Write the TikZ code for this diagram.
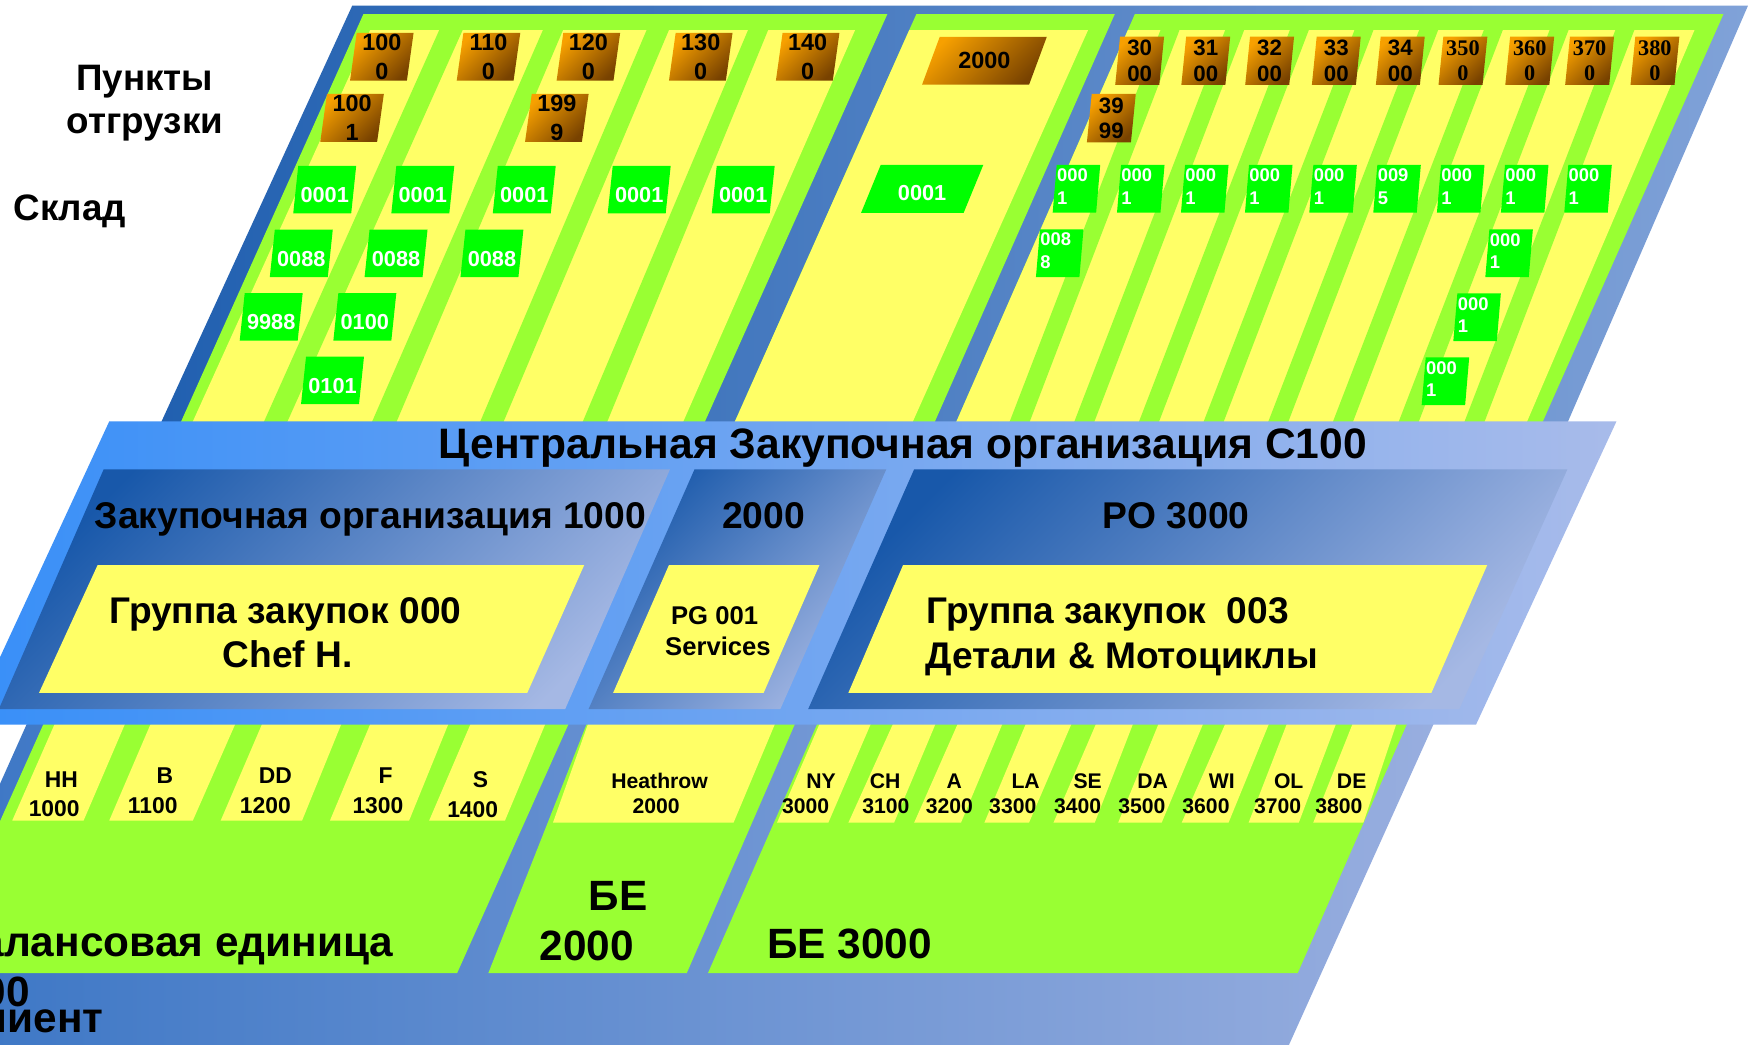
\documentclass[tikz,border=0pt]{standalone}
\usepackage{fontspec}
\setmainfont{Liberation Sans}
\newfontfamily\serifnum{Liberation Serif}
\definecolor{cLime}{RGB}{153,255,51}
\definecolor{cYel}{RGB}{255,255,102}
\definecolor{cGreen}{RGB}{0,255,0}
\definecolor{cOrL}{RGB}{247,160,0}
\definecolor{cOrD}{RGB}{120,66,0}
\definecolor{cTopL}{RGB}{33,96,176}
\definecolor{cTopR}{RGB}{128,162,216}
\definecolor{cBandL}{RGB}{56,143,248}
\definecolor{cBandR}{RGB}{168,187,234}
\definecolor{cPoL}{RGB}{24,88,170}
\definecolor{cPoR}{RGB}{165,184,228}
\definecolor{cBotL}{RGB}{56,116,196}
\definecolor{cBotR}{RGB}{152,174,223}
\newcommand\fs[2]{\fontsize{#1}{#2}\selectfont\bfseries}
\newcommand\pgbox[6]{\path[#1] (#2,#3) -- ++(#4,0) -- ++({-(#6)*(#5)},#5) -- ++({-(#4)},0) -- cycle;}
\newcommand\cbox[9]{\pgbox{#1}{#4}{#5}{#6}{#7}{#8}\node[#2] (#3) at ({#4+(#6)/2-(#8)*(#7)/2},{#5+(#7)/2}) {#9};}
\newcommand\lbox[9]{\pgbox{#1}{#4}{#5}{#6}{#7}{#8}\node[#2] (#3) at ({#4-(#8)*(#7)/2+2},{#5+(#7)/2-2}) {#9};}
\tikzset{
 orbox/.style={left color=cOrL, right color=cOrD, shading angle=45},
 grbox/.style={fill=cGreen},
 olab/.style={inner sep=0pt, align=center, font=\fs{21}{25.5}},
 olabc/.style={inner sep=0pt, align=center, font=\fs{20}{22.5}},
 olabs/.style={inner sep=0pt, align=center, font=\fontsize{20}{22.5}\selectfont\serifnum\bfseries},
 glab/.style={inner sep=0pt, align=center, text=white, font=\fs{19.5}{21}, yshift=-5pt},
 glabB/.style={inner sep=0pt, align=center, text=white, font=\fs{19.5}{21}, yshift=-3.5pt},
 glabc/.style={inner sep=0pt, align=left, anchor=west, text=white, font=\fs{16.5}{20.3}},
 cellA/.style={inner sep=0pt, anchor=base, font=\fs{20.5}{24}},
 cellB/.style={inner sep=0pt, anchor=base, font=\fs{19}{22}},
 big/.style={inner sep=0pt, font=\fs{38}{44}},
 mid/.style={inner sep=0pt, font=\fs{33.4}{38}},
 grp/.style={inner sep=0pt, font=\fs{33.3}{40}},
 side/.style={inner sep=0pt, font=\fs{33}{40}},
 stripe/.style={fill=cLime},
 panel/.style={fill=cLime},
 cell/.style={fill=cYel},
 poPanel/.style={left color=cPoL, right color=cPoR, shading angle=45},
}
\begin{document}
\begin{tikzpicture}[x=1pt,y=-1pt]
\path[use as bounding box] (0,0) rectangle (1568,937);
\fill[white] (0,0) rectangle (1568,937);
\clip (0,0) rectangle (1568,937);
% ================= TOP SECTION =================
\path[left color=cTopL, right color=cTopR] (316,5) -- (1568,5) -- (1405.7,380) -- (144,380) -- cycle;
% panel A
\path[panel] (326,12.6) -- (796,12.6) -- (631.5,380) -- (161.6,380) -- cycle;
\path[cell] (332,27) -- (767,27) -- (612.1,380) -- (172.1,380) -- cycle;
\path[stripe] (394,27) -- (415,27) -- (257,380) -- (236,380) -- cycle;
\path[stripe] (487,27) -- (505,27) -- (355,380) -- (333,380) -- cycle;
\path[stripe] (580,27) -- (600,27) -- (451,380) -- (430,380) -- cycle;
\path[stripe] (671,27) -- (689,27) -- (544,380) -- (522,380) -- cycle;
% panel B
\path[panel] (822,12.6) -- (1000,12.6) -- (837.8,380) -- (658.4,380) -- cycle;
\path[cell] (815.6,27) -- (976,27) -- (818,380) -- (658.4,380) -- cycle;
% panel C
\path[panel] (1018,12.6) -- (1546,12.6) -- (1383.1,380) -- (857.1,380) -- cycle;
\path[cell] (1011.7,27) -- (1520,27) -- (1369,380) -- (857.1,380) -- cycle;
\foreach \a in {1041,1099,1157,1215,1273,1331,1390,1449}
  \path[stripe] (\a,27) -- ({\a+17},27) -- ({\a-118},380) -- ({\a-136},380) -- cycle;
% orange boxes panel A
\cbox{orbox}{olab}{oA1}{320}{29.4}{51}{43}{0.14}{100\\0}
\cbox{orbox}{olab}{oA2}{415.7}{29.4}{51}{43}{0.14}{110\\0}
\cbox{orbox}{olab}{oA3}{505.3}{29.4}{51}{43}{0.14}{120\\0}
\cbox{orbox}{olab}{oA4}{606.1}{29.4}{51}{43}{0.14}{130\\0}
\cbox{orbox}{olab}{oA5}{702}{29.4}{51}{43}{0.14}{140\\0}
\cbox{orbox}{olab}{oA6}{293.3}{84.3}{51}{43}{0.14}{100\\1}
\cbox{orbox}{olab}{oA7}{477}{84.3}{51}{43}{0.14}{199\\9}
% green boxes panel A
\cbox{grbox}{glab}{gA1}{267.5}{148.9}{52}{42.5}{0.105}{0001}
\cbox{grbox}{glab}{gA2}{355.5}{148.9}{52}{42.5}{0.105}{0001}
\cbox{grbox}{glab}{gA3}{446.5}{148.9}{52}{42.5}{0.105}{0001}
\cbox{grbox}{glab}{gA4}{549.6}{148.9}{52}{42.5}{0.105}{0001}
\cbox{grbox}{glab}{gA5}{642.9}{148.9}{52}{42.5}{0.105}{0001}
\cbox{grbox}{glab}{gA6}{246.5}{206}{52}{42.5}{0.105}{0088}
\cbox{grbox}{glab}{gA7}{331.5}{206}{52}{42.5}{0.105}{0088}
\cbox{grbox}{glab}{gA8}{417.5}{206}{52}{42.5}{0.105}{0088}
\cbox{grbox}{glab}{gA9}{219.5}{263}{52}{42.5}{0.105}{9988}
\cbox{grbox}{glab}{gA10}{303.5}{263}{52}{42.5}{0.105}{0100}
\cbox{grbox}{glab}{gA11}{274.5}{320}{52}{42.5}{0.105}{0101}
% panel B boxes
\cbox{orbox}{olab}{oB1}{843}{33}{96}{43}{0.37}{2000}
\cbox{grbox}{glabB}{gB1}{790}{148}{92}{43}{0.41}{0001}
% panel C orange
\cbox{orbox}{olabc}{oC1}{1004.7}{32.9}{39.5}{43.3}{0.1}{30\\00}
\cbox{orbox}{olabc}{oC2}{1064}{32.9}{39.5}{43.3}{0.1}{31\\00}
\cbox{orbox}{olabc}{oC3}{1121.3}{32.9}{39.5}{43.3}{0.1}{32\\00}
\cbox{orbox}{olabc}{oC4}{1181.1}{32.9}{39.5}{43.3}{0.1}{33\\00}
\cbox{orbox}{olabc}{oC5}{1238.5}{32.9}{39.5}{43.3}{0.1}{34\\00}
\cbox{orbox}{olabs}{oC6}{1294.7}{32.9}{39.5}{43.3}{0.1}{350\\0}
\cbox{orbox}{olabs}{oC7}{1354.6}{32.9}{39.5}{43.3}{0.1}{360\\0}
\cbox{orbox}{olabs}{oC8}{1408.3}{32.9}{39.5}{43.3}{0.1}{370\\0}
\cbox{orbox}{olabs}{oC9}{1466.9}{32.9}{39.5}{43.3}{0.1}{380\\0}
\cbox{orbox}{olabc}{oC10}{979.3}{84.3}{39.5}{43.3}{0.1}{39\\99}
% panel C green
\lbox{grbox}{glabc}{gC1}{947.9}{148}{39}{42.8}{0.085}{000\\1}
\lbox{grbox}{glabc}{gC2}{1005.6}{148}{39}{42.8}{0.085}{000\\1}
\lbox{grbox}{glabc}{gC3}{1063}{148}{39}{42.8}{0.085}{000\\1}
\lbox{grbox}{glabc}{gC4}{1120.4}{148}{39}{42.8}{0.085}{000\\1}
\lbox{grbox}{glabc}{gC5}{1178.1}{148}{39}{42.8}{0.085}{000\\1}
\lbox{grbox}{glabc}{gC6}{1235.5}{148}{39}{42.8}{0.085}{009\\5}
\lbox{grbox}{glabc}{gC7}{1292.6}{148}{39}{42.8}{0.085}{000\\1}
\lbox{grbox}{glabc}{gC8}{1350}{148}{39}{42.8}{0.085}{000\\1}
\lbox{grbox}{glabc}{gC9}{1406.8}{148}{39}{42.8}{0.085}{000\\1}
\lbox{grbox}{glabc}{gC10}{932.9}{205.7}{39}{42.8}{0.085}{008\\8}
\lbox{grbox}{glabc}{gC11}{1336}{205.7}{39}{42.8}{0.085}{000\\1}
\lbox{grbox}{glabc}{gC12}{1307.3}{263.1}{39}{42.8}{0.085}{000\\1}
\lbox{grbox}{glabc}{gC13}{1278.9}{320.5}{39}{42.8}{0.085}{000\\1}
% left labels
\node[side, anchor=base] (lp1) at (130,81) {Пункты};
\node[side, anchor=base] (lp2) at (130,119.5) {отгрузки};
\node[side, anchor=base west] (lsk) at (12,198) {Склад};
% ================= BOTTOM SECTION =================
\path[left color=cBotL, right color=cBotR] (26,645) -- (1288,645) -- (1155,940) -- (-106,940) -- cycle;
\path[panel] (41,645) -- (512,645) -- (410,873) -- (-61,873) -- cycle;
\path[cell] (51,645) -- (114,645) -- (75,736) -- (11,736) -- cycle;
\path[cell] (137,645) -- (213,645) -- (173,736) -- (98,736) -- cycle;
\path[cell] (237,645) -- (308,645) -- (271,736) -- (198,736) -- cycle;
\path[cell] (334,645) -- (404,645) -- (367,736) -- (296,736) -- cycle;
\path[cell] (424,645) -- (491,645) -- (453,736) -- (385,736) -- cycle;
\path[panel] (528,645) -- (715,645) -- (616,873) -- (438,873) -- cycle;
\path[cell] (529,645) -- (697,645) -- (658,738) -- (496,738) -- cycle;
\path[panel] (735,645) -- (1264,645) -- (1164,873) -- (635,873) -- cycle;
\path[cell] (737,645) -- (783,645) -- (743,738) -- (697,738) -- cycle;
\path[cell] (803,645) -- (841,645) -- (802,738) -- (761,738) -- cycle;
\path[cell] (861,645) -- (901,645) -- (862,738) -- (820,738) -- cycle;
\path[cell] (922,645) -- (963,645) -- (923,738) -- (883,738) -- cycle;
\path[cell] (985,645) -- (1018,645) -- (982,738) -- (945,738) -- cycle;
\path[cell] (1041,645) -- (1081,645) -- (1042,738) -- (1003,738) -- cycle;
\path[cell] (1101,645) -- (1140,645) -- (1102,738) -- (1060,738) -- cycle;
\path[cell] (1156,645) -- (1200,645) -- (1165,738) -- (1120,738) -- cycle;
\path[cell] (1215,645) -- (1254,645) -- (1223,738) -- (1178,738) -- cycle;
% cell labels
\node[cellA] (t1a) at (55,706) {HH};   \node[cellA] (t1b) at (48.6,732.6) {1000};
\node[cellA] (t2a) at (148,703) {B};   \node[cellA] (t2b) at (137,730) {1100};
\node[cellA] (t3a) at (247,703) {DD};  \node[cellA] (t3b) at (238,730) {1200};
\node[cellA] (t4a) at (346,703) {F};   \node[cellA] (t4b) at (339,730) {1300};
\node[cellA] (t5a) at (431,706) {S};   \node[cellA] (t5b) at (424,733) {1400};
\node[cellB] (t6a) at (591.7,707) {Heathrow}; \node[cellB] (t6b) at (588.6,729.6) {2000};
\node[cellB] (t7a) at (736.5,707) {NY};  \node[cellB] (t7b) at (722.6,729.5) {3000};
\node[cellB] (t8a) at (794,707) {CH};    \node[cellB] (t8b) at (794.6,729.5) {3100};
\node[cellB] (t9a) at (856,707) {A};     \node[cellB] (t9b) at (851.6,729.5) {3200};
\node[cellB] (t10a) at (920,707) {LA};   \node[cellB] (t10b) at (908.5,729.5) {3300};
\node[cellB] (t11a) at (975.7,707) {SE}; \node[cellB] (t11b) at (966.7,729.5) {3400};
\node[cellB] (t12a) at (1034,707) {DA};  \node[cellB] (t12b) at (1024.3,729.5) {3500};
\node[cellB] (t13a) at (1096,707) {WI};  \node[cellB] (t13b) at (1081.8,729.5) {3600};
\node[cellB] (t14a) at (1156,707) {OL};  \node[cellB] (t14b) at (1146,729.5) {3700};
\node[cellB] (t15a) at (1212.5,707) {DE}; \node[cellB] (t15b) at (1201,729.5) {3800};
% big bottom labels
\node[big, anchor=base east] (be1) at (353,858) {Балансовая единица};
\node[big, anchor=base east] (be1n) at (27,903) {1000};
\node[big, anchor=base east] (kl) at (93,926) {Клиент};
\node[big, anchor=base west] (be2a) at (528,817) {БЕ};
\node[big, anchor=base west] (be2b) at (484,862) {2000};
\node[big, anchor=base west] (be3) at (688,860) {БЕ 3000};
% ================= CENTRAL BAND =================
\path[left color=cBandL, right color=cBandR] (98,378) -- (1450,378) -- (1324,650) -- (-28,650) -- cycle;
\path[poPanel] (93,421) -- (601,421) -- (507,636) -- (-1,636) -- cycle;
\path[poPanel] (623,421) -- (795,421) -- (700,636) -- (528,636) -- cycle;
\path[poPanel] (820,421) -- (1406,421) -- (1309,636) -- (725,636) -- cycle;
\path[cell] (87.5,507) -- (524,507) -- (473,621.5) -- (35,621.5) -- cycle;
\path[cell] (600,507) -- (735,507) -- (685,621.5) -- (550,621.5) -- cycle;
\path[cell] (810,507) -- (1334,507) -- (1284,621.5) -- (761,621.5) -- cycle;
\node[inner sep=0pt, font=\fs{38.2}{44}, anchor=base] (ctitle) at (810,411) {Центральная Закупочная организация C100};
\node[mid, anchor=base west] (po1) at (85,474) {Закупочная организация 1000};
\node[mid, anchor=base] (po2) at (685,474) {2000};
\node[mid, anchor=base] (po3) at (1055,474) {PO 3000};
\node[grp, anchor=base west] (g1a) at (98,559) {Группа закупок 000};
\node[grp, anchor=base] (g1b) at (258,599) {Chef H.};
\node[inner sep=0pt, font=\fs{23}{28}, anchor=base] (g2a) at (641,560) {PG 001};
\node[inner sep=0pt, font=\fs{23}{28}, anchor=base] (g2b) at (644,588) {Services};
\node[grp, anchor=base west] (g3a) at (831,559) {Группа закупок~~003};
\node[grp, anchor=base west] (g3b) at (830,600) {Детали \& Мотоциклы};
\end{tikzpicture}
\end{document}
